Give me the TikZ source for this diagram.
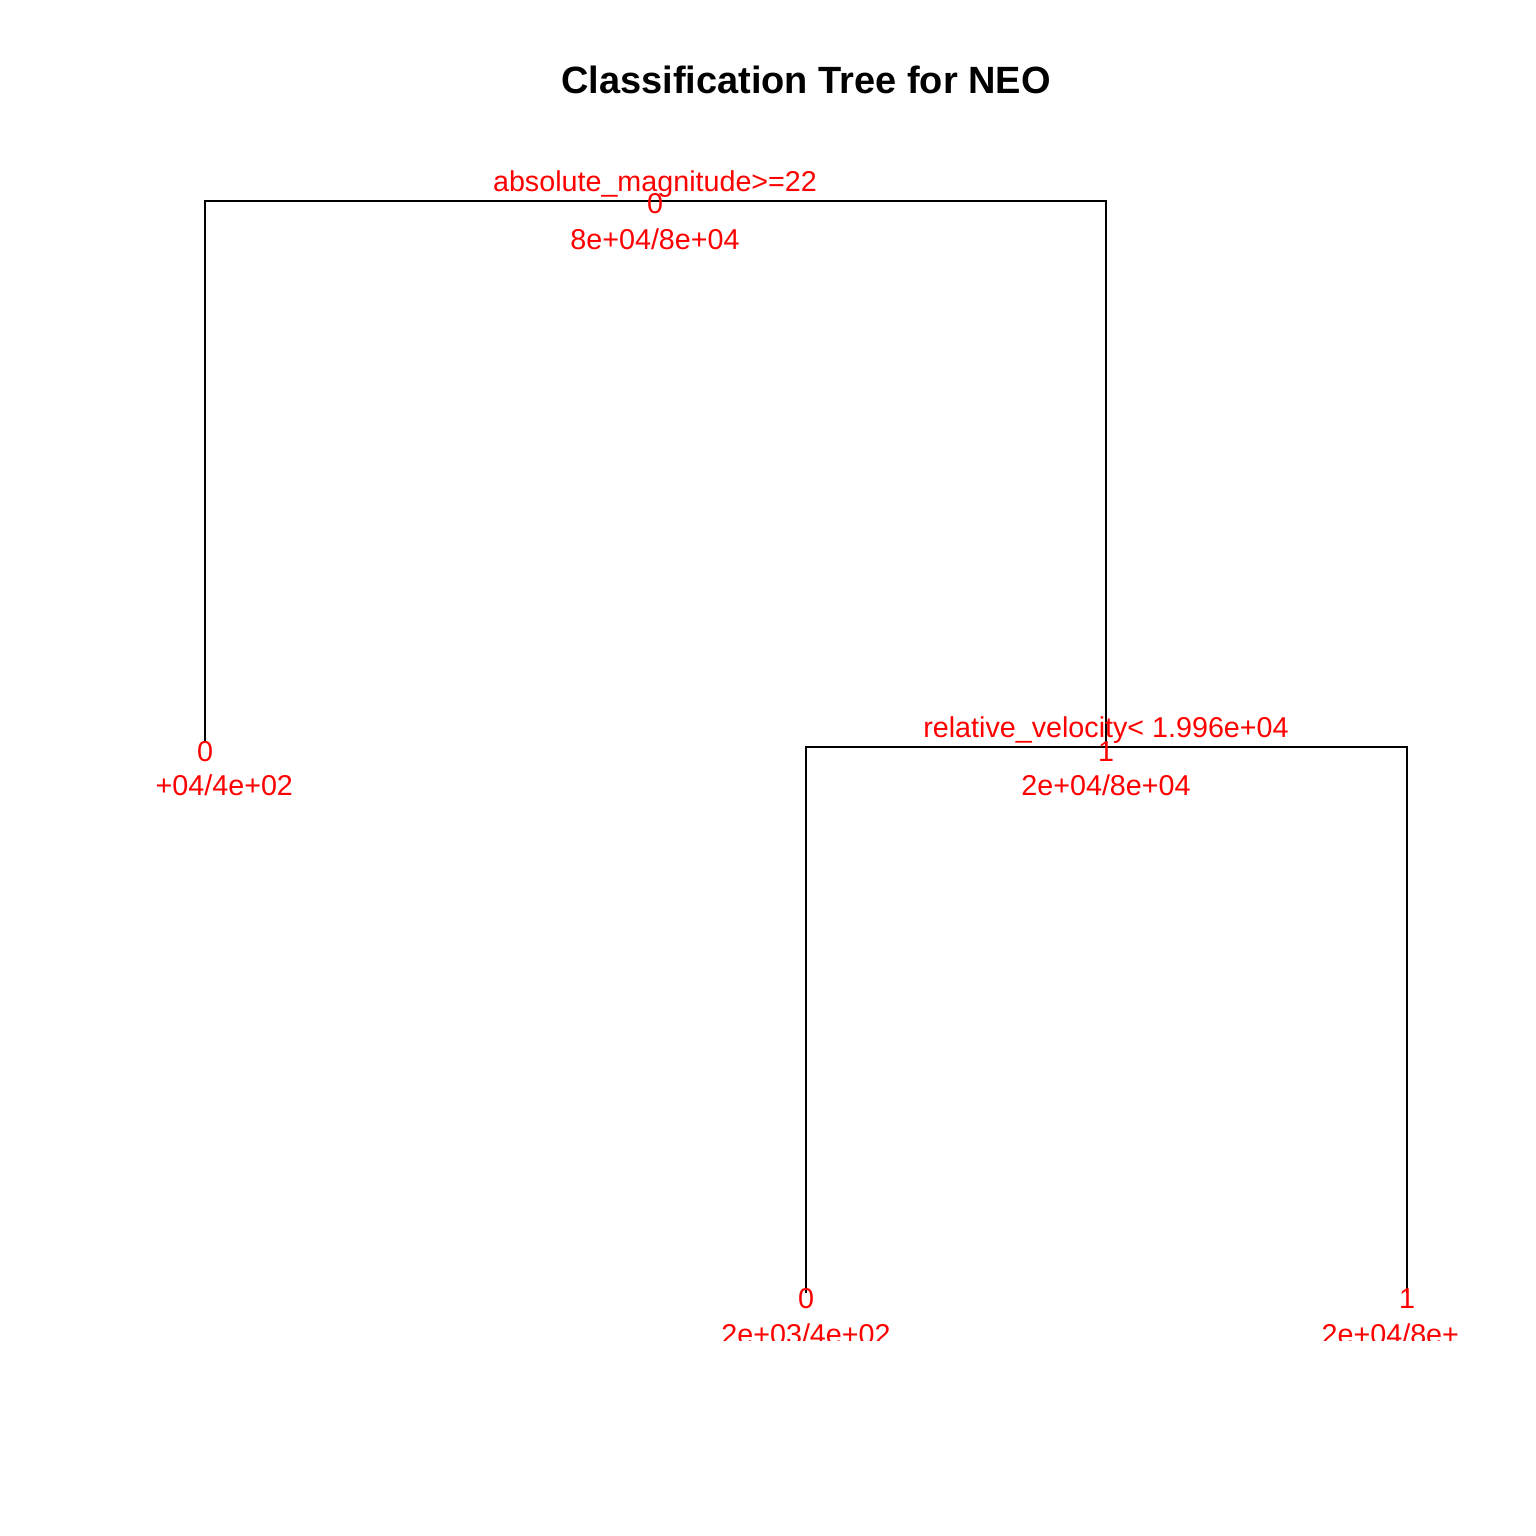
\documentclass[tikz,border=0pt]{standalone}
\usepackage{fontspec}
\setmainfont{Liberation Sans}
\begin{document}
\begin{tikzpicture}[x=0.01cm,y=-0.01cm,
  lbl/.style={text=red,inner sep=0pt,anchor=base,font=\fontsize{8.16}{10}\selectfont},
  edge/.style={draw=black,line width=0.58pt}]
\useasboundingbox (0,0) rectangle (1536,1536);
\node[inner sep=0pt,anchor=base,font=\fontsize{10.8}{13}\selectfont\bfseries] (title) at (806,93) {Classification Tree for NEO};
\coordinate (root) at (655,201);
\coordinate (lleaf) at (205,741);
\coordinate (rnode) at (1106,747);
\coordinate (bl) at (806,1293);
\coordinate (br) at (1407,1293);
\begin{scope}
\clip (153,120) rectangle (1457,1340);
\draw[edge] (lleaf) -- (lleaf |- root) -- (rnode |- root) -- (rnode);
\draw[edge] (bl) -- (bl |- rnode) -- (br |- rnode) -- (br);
\node[lbl] (rsplit) at (655,191) {absolute\_magnitude>=22};
\node[lbl] (rcls) at (655,213) {0};
\node[lbl] (rcnt) at (655,249) {8e+04/8e+04};
\node[lbl] (lcls) at (205,761) {0};
\node[lbl,anchor=base west] (lcnt) at (155,795) {+04/4e+02};
\node[lbl] (nsplit) at (1106,737) {relative\_velocity< 1.996e+04};
\node[lbl] (ncls) at (1106,761) {1};
\node[lbl] (ncnt) at (1106,795) {2e+04/8e+04};
\node[lbl] (blcls) at (806,1308) {0};
\node[lbl] (blcnt) at (806,1344) {2e+03/4e+02};
\node[lbl] (brcls) at (1407,1308) {1};
\node[lbl,anchor=base west] (brcnt) at (1321,1344) {2e+04/8e+};
\end{scope}
\end{tikzpicture}
\end{document}
